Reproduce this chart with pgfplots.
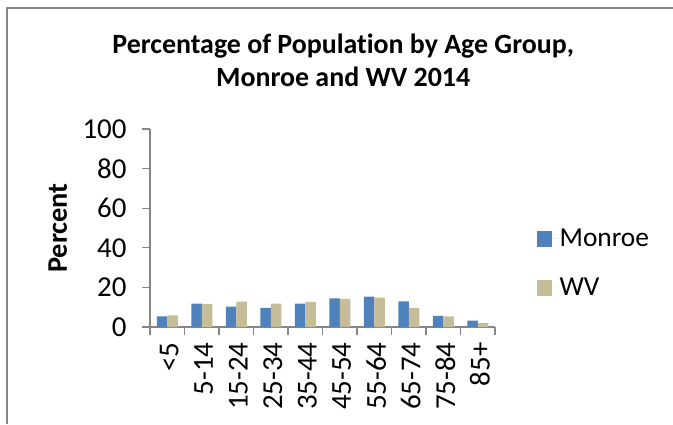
\documentclass[border=0pt]{standalone}
\usepackage{pgfplots}
\usepackage{pgfplotstable}
\pgfplotsset{compat=1.18}
\usepackage{fontspec}
\setmainfont{Carlito}[Ligatures=NoCommon]
\definecolor{monroe}{HTML}{4F81BD}
\definecolor{wv}{HTML}{C4BD97}
\definecolor{axgray}{HTML}{868686}
\pgfplotstableread{
x monroe wv
0 5.4 5.9
1 11.8 11.7
2 10.3 12.8
3 9.6 11.8
4 11.8 12.7
5 14.4 14.2
6 15.4 14.9
7 13.0 9.6
8 5.6 5.4
9 3.2 2.0
}\datatable
\begin{document}
\begin{tikzpicture}[x=1bp,y=1bp]
\draw[axgray, line width=1.2bp] (7,0) -- (7,416) -- (673,416);
\begin{axis}[
  at={(150bp,97bp)}, anchor=south west,
  scale only axis, width=345bp, height=198bp,
  ybar=0pt, bar width=10.5bp,
  xmin=-0.5, xmax=9.5, ymin=0, ymax=100,
  ytick={0,20,...,100},
  xtick={0,...,9},
  xticklabels={{<5},{5-14},{15-24},{25-34},{35-44},{45-54},{55-64},{65-74},{75-84},{85+}},
  minor xtick={-0.5,0.5,...,9.5},
  major x tick style={draw=none},
  tick align=outside,
  major tick length=8bp, minor tick length=8bp,
  tick style={axgray, line width=1.2bp},
  axis x line*=bottom, axis y line*=left,
  axis line style={axgray, line width=1.2bp, -},
  /pgf/number format/assume math mode=true,
  ticklabel style={font=\fontsize{29}{32}\selectfont, text=black},
  yticklabel style={xshift=-12bp},
  xticklabel style={yshift=-4bp, xshift=2bp, rotate=90, anchor=east},
  title={Percentage of Population by Age Group,\\Monroe and WV 2014},
  title style={font=\bfseries\fontsize{28}{33}\selectfont, align=center, at={(axis description cs:0.56,1.318)}, anchor=center},
  ylabel={Percent},
  ylabel style={font=\bfseries\fontsize{28.5}{30}\selectfont, at={(axis description cs:-0.267,0.5)}, anchor=center},
  legend style={at={(axis description cs:1.12,0.323)}, anchor=west, draw=none, fill=none, font=\fontsize{27.5}{30}\selectfont, row sep=26bp, inner sep=0pt},
  legend cell align=left,
  legend image code/.code={\fill[#1] (0bp,-8bp) rectangle (15bp,8bp); \path (0bp,0bp) -- (21bp,0bp);},
]
\addplot[fill=monroe, draw=none] table[x=x, y=monroe] {\datatable};
\addplot[fill=wv, draw=none] table[x=x, y=wv] {\datatable};
\legend{Monroe, WV}
\end{axis}
\pgfresetboundingbox
\path[use as bounding box] (0,0) rectangle (673,424);
\end{tikzpicture}
\end{document}
